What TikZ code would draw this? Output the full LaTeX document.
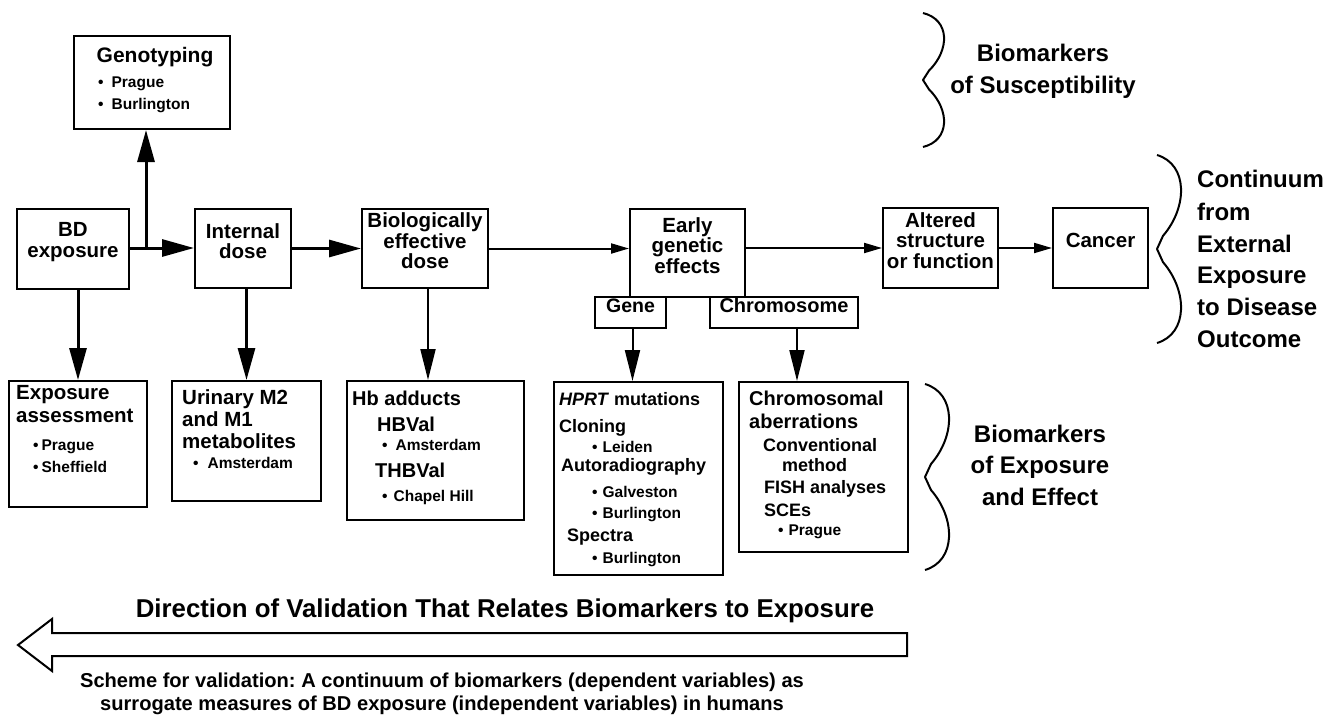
\documentclass[tikz,border=0pt]{standalone}
\usepackage{fontspec}
\setmainfont{Liberation Sans}
\usepackage{graphicx}
\usetikzlibrary{arrows.meta,fit}
\frenchspacing
\newcommand\fsz[1]{\fontsize{#1}{#1}\selectfont}
\newcommand\wbrace[4]{%
  \pgfmathsetmacro\bym{(#2+#3)/2}%
  \pgfmathsetmacro\bh{(#3-#2)/2}%
  \pgfmathsetmacro\bxa{#1+#4}%
  \pgfmathsetmacro\bxb{#1+6}%
  \pgfmathsetmacro\bya{#2+0.10*\bh}%
  \pgfmathsetmacro\byb{\bym-0.45*\bh}%
  \pgfmathsetmacro\bye{\bym-0.14*\bh}%
  \pgfmathsetmacro\byf{\bym+0.14*\bh}%
  \pgfmathsetmacro\byc{\bym+0.45*\bh}%
  \pgfmathsetmacro\byd{#3-0.10*\bh}%
  \draw[bracestyle] (#1,#2) .. controls (\bxa,\bya) and (\bxa,\byb) .. (\bxb,\bye)
     -- (#1,\bym) -- (\bxb,\byf)
     .. controls (\bxa,\byc) and (\bxa,\byd) .. (#1,#3);}
\begin{document}
\begin{tikzpicture}[x=1pt,y=-1pt,
  box/.style={draw, line width=2pt, inner sep=0pt, font=\bfseries\fsz{20.5}, align=center},
  hd/.style={inner sep=0pt, anchor=base west, font=\bfseries\fsz{20.5}},
  sb/.style={inner sep=0pt, anchor=base west, font=\bfseries\fsz{18}},
  bl/.style={inner sep=0pt, anchor=base west, font=\bfseries\fsz{15.5}},
  big/.style={line width=3pt, -{Triangle[length=32pt,width=17pt]}},
  med/.style={line width=2pt, -{Triangle[length=31pt,width=15pt]}},
  sml/.style={line width=2pt, -{Triangle[length=18pt,width=10pt]}},
  bracestyle/.style={line width=2pt, line join=round},
  side/.style={inner sep=0pt, anchor=base, font=\bfseries\fsz{24}}
]
\useasboundingbox (0,0) rectangle (1330,717);

% ---------- main chain ----------
\node[box, fit={(74,36)(230,129)}] (geno) {};
\node[box, fit={(17,209)(129,289)}] (bd) {BD\\exposure};
\node[box, fit={(195,209)(291,288)}] (internal) {Internal\\dose};
\node[box, fit={(362,209)(488,288)}] (bio) {Biologically\\effective\\dose};
\node[box, fit={(630,209)(745,297)}] (early) {Early\\genetic\\effects};
\node[box, fit={(595,297)(666,328)}, font=\bfseries\fsz{19.5}] (gene) {Gene};
\node[box, fit={(710,297)(858,328)}, font=\bfseries\fsz{20}] (chromo) {Chromosome};
\node[box, fit={(883,208)(998,288)}] (altered) {Altered\\structure\\or function};
\node[box, fit={(1053,208)(1148,288)}] (cancer) {Cancer};

% genotyping text
\node[anchor=base, inner sep=0pt, font=\bfseries\fsz{21}] (genoT) at (155,63) {Genotyping};
\node[bl] (genoA) at (98,88) {•\hspace{8pt}Prague};
\node[bl] (genoB) at (98,109) {•\hspace{8pt}Burlington};

% ---------- lower boxes ----------
\node[box, fit={(9,381)(147,507)}] (expo) {};
\node[hd] (expoA) at (16,399) {Exposure};
\node[hd] (expoB) at (16,422) {assessment};
\node[bl] (expoC) at (33,450) {•\hspace{3pt}Prague};
\node[bl] (expoD) at (33,472) {•\hspace{3pt}Sheffield};

\node[box, fit={(172,381)(321,501)}] (urin) {};
\node[hd] (urinA) at (182,404) {Urinary M2};
\node[hd] (urinB) at (182,426) {and M1};
\node[hd] (urinC) at (182,448) {metabolites};
\node[bl] (urinD) at (193,468) {•\hspace{9pt}Amsterdam};

\node[box, fit={(347,381)(524,520)}] (hb) {};
\node[hd, font=\bfseries\fsz{20}] (hbA) at (352,405) {Hb adducts};
\node[hd, font=\bfseries\fsz{20}] (hbB) at (377,431) {HBVal};
\node[bl] (hbC) at (382,450) {•\hspace{8pt}Amsterdam};
\node[hd, font=\bfseries\fsz{20}] (hbD) at (375,477) {THBVal};
\node[bl] (hbE) at (382,501) {•\hspace{6pt}Chapel Hill};

\node[box, fit={(554,382)(723,575)}] (hprt) {};
\node[sb] (hprtA) at (559,405) {\textit{HPRT} mutations};
\node[sb] (hprtB) at (559,432) {Cloning};
\node[bl] (hprtC) at (592,452) {•\hspace{5pt}Leiden};
\node[sb] (hprtD) at (561,471) {Autoradiography};
\node[bl] (hprtE) at (592,497) {•\hspace{5pt}Galveston};
\node[bl] (hprtF) at (592,518) {•\hspace{5pt}Burlington};
\node[sb] (hprtG) at (567,541) {Spectra};
\node[bl] (hprtH) at (592,563) {•\hspace{5pt}Burlington};

\node[box, fit={(739,382)(908,552)}] (chrom) {};
\node[hd, font=\bfseries\fsz{20}] (chromA) at (749,405) {Chromosomal};
\node[hd, font=\bfseries\fsz{20}] (chromB) at (749,428) {aberrations};
\node[sb] (chromC) at (763,451) {Conventional};
\node[sb] (chromD) at (782,471) {method};
\node[sb] (chromE) at (764,493) {FISH analyses};
\node[sb] (chromF) at (764,516) {SCEs};
\node[bl] (chromG) at (778,535) {•\hspace{5pt}Prague};

% ---------- connectors ----------
\coordinate (br) at (146,248);
\draw[big] (bd.east |- br) -- (internal.west |- br);
\draw[big] (br) -- (br |- geno.south);
\draw[big] (internal.east) -- (bio.west);
\draw[sml] (bio.east) -- (bio.east -| early.west);
\draw[sml] (altered.west -| early.east) -- (altered.west);
\draw[sml] (altered.east) -- (cancer.west);
\draw[big] (bd.south -| expo.north) -- (expo.north);
\draw[big] (internal.south -| urin.north) -- (urin.north);
\draw[med] ([xshift=3pt]bio.south) -- ([xshift=3pt]bio.south |- hb.north);
\draw[med] ([xshift=2pt]gene.south) -- ([xshift=2pt]gene.south |- hprt.north);
\draw[med] ([xshift=13pt]chromo.south) -- ([xshift=13pt]chromo.south |- chrom.north);

% ---------- braces and side labels ----------
\wbrace{923}{13}{147}{27}
\wbrace{1157}{155}{343}{31}
\wbrace{925}{384}{570}{31}

\node[side] (susA) at (1043,62) {Biomarkers};
\node[side] (susB) at (1043,93) {of Susceptibility};

\node[side, anchor=base west] (conA) at (1197,187) {Continuum};
\node[side, anchor=base west] (conB) at (1197,220) {from};
\node[side, anchor=base west] (conC) at (1197,252) {External};
\node[side, anchor=base west] (conD) at (1197,283) {Exposure};
\node[side, anchor=base west] (conE) at (1197,315) {to Disease};
\node[side, anchor=base west] (conF) at (1197,347) {Outcome};

\node[side] (effA) at (1040,442) {Biomarkers};
\node[side] (effB) at (1040,473) {of Exposure};
\node[side] (effC) at (1040,505) {and Effect};

% ---------- validation arrow ----------
\node[anchor=base, inner sep=0pt, font=\bfseries\fsz{25.8}] (title) at (505,617) {Direction of Validation That Relates Biomarkers to Exposure};
\draw[line width=2pt, line join=miter] (907,633) -- (52,633) -- (52,619) -- (18,645) -- (52,671) -- (52,656) -- (907,656) -- cycle;
\node[anchor=base, inner sep=0pt, font=\bfseries\fsz{20.1}] (capA) at (442,687) {Scheme for validation: A continuum of biomarkers (dependent variables) as};
\node[anchor=base, inner sep=0pt, font=\bfseries\fsz{20.1}] (capB) at (442,710) {surrogate measures of BD exposure (independent variables) in humans};
\end{tikzpicture}
\end{document}
